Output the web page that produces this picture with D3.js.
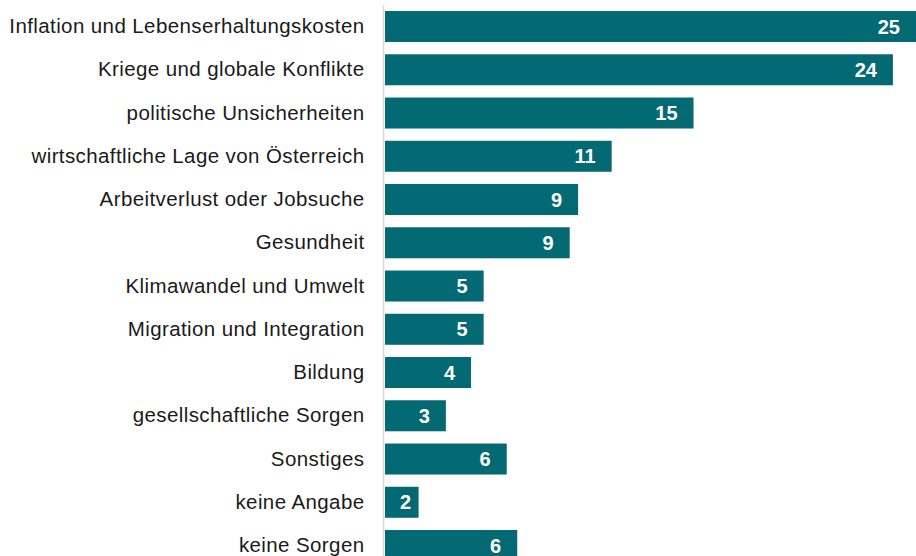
<!DOCTYPE html>
<meta charset="utf-8">
<script src="https://cdn.jsdelivr.net/npm/d3@7"></script>
<style>
  body { margin: 0; background: #fff; }
  svg { display: block; }
</style>
<body>
<svg width="916" height="556"></svg>
<script>
    // Sorgen (Prozent)
    var categories = [
        "Inflation und Lebenserhaltungskosten",
        "Kriege und globale Konflikte",
        "politische Unsicherheiten",
        "wirtschaftliche Lage von Österreich",
        "Arbeitverlust oder Jobsuche",
        "Gesundheit",
        "Klimawandel und Umwelt",
        "Migration und Integration",
        "Bildung",
        "gesellschaftliche Sorgen",
        "Sonstiges",
        "keine Angabe",
        "keine Sorgen"
    ];
    var values = [25.3, 24.2, 14.7, 10.8, 9.2, 8.8, 4.7, 4.7, 4.1, 2.9, 5.8, 1.6, 6.3];

    var data = categories.map(function(c, i){ return { cat: c, value: values[i] }; });

    var barColor = "#036a74";
    var svg = d3.select("svg");

    var x = d3.scaleLinear().domain([0, 25.3]).range([385, 916]);
    var y = d3.scaleBand()
        .domain(categories)
        .range([4.9, 4.9 + 13 * 43.25])
        .paddingInner(0.283)
        .paddingOuter(0.1415);

    // bars
    svg.selectAll("rect.bar").data(data).enter()
        .append("rect")
        .attr("class", "bar")
        .attr("x", x(0))
        .attr("y", function(d){ return y(d.cat); })
        .attr("width", function(d){ return x(d.value) - x(0); })
        .attr("height", y.bandwidth())
        .attr("fill", barColor);

    // category labels
    var yAxis = d3.axisLeft(y).tickSize(0).tickPadding(19);
    var gy = svg.append("g")
        .attr("transform", "translate(383.5,0)")
        .call(yAxis);
    gy.select(".domain").remove();
    gy.selectAll("text")
        .attr("font-family", "Arial, 'Liberation Sans', sans-serif")
        .attr("font-size", "20.5px")
        .attr("letter-spacing", "0.4px")
        .attr("fill", "#1a1a1a");

    // vertical axis line
    svg.append("line")
        .attr("x1", 383.5).attr("x2", 383.5)
        .attr("y1", 5).attr("y2", 556)
        .attr("stroke", "#d9d9d9")
        .attr("stroke-width", 1.6);

    // value labels inside the bar end
    svg.selectAll("text.val").data(data).enter()
        .append("text")
        .attr("class", "val")
        .attr("x", function(d){ return Math.max(x(d.value) - 16, x(0) + 26); })
        .attr("y", function(d){ return y(d.cat) + y.bandwidth() / 2; })
        .attr("dy", "0.36em")
        .attr("text-anchor", "end")
        .attr("font-family", "Arial, 'Liberation Sans', sans-serif")
        .attr("font-size", "20px")
        .attr("font-weight", "bold")
        .attr("fill", "#fff")
        .text(function(d){ return Math.round(d.value); });
</script>
</body>
